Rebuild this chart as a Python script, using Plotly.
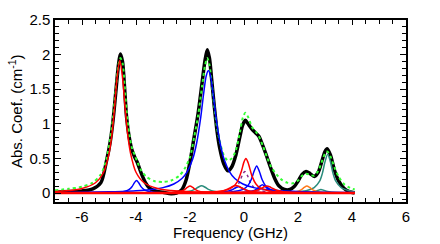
import plotly.graph_objects as go

# ---- measured spectrum (black) ----
meas_x = [-7.0, -6.5, -6.0, -5.6, -5.3, -5.1, -4.95, -4.85, -4.75, -4.65, -4.58, -4.5, -4.42, -4.35,
          -4.25, -4.15, -4.05, -3.95, -3.8, -3.65, -3.5, -3.3, -3.0, -2.7, -2.5, -2.3, -2.15, -2.0,
          -1.85, -1.7, -1.55, -1.45, -1.36, -1.28, -1.2, -1.1, -1.0, -0.9, -0.75, -0.6, -0.45, -0.3,
          -0.15, -0.05, 0.05, 0.15, 0.3, 0.45, 0.55, 0.7, 0.85, 1.0, 1.15, 1.3, 1.5, 1.7, 1.85, 2.0,
          2.15, 2.3, 2.45, 2.6, 2.75, 2.9, 3.0, 3.08, 3.2, 3.35, 3.5, 3.7, 3.9, 4.1]
meas_y = [0.01, 0.02, 0.03, 0.06, 0.15, 0.45, 0.75, 1.05, 1.45, 1.85, 2.01, 1.9, 1.5, 1.1,
          0.8, 0.62, 0.52, 0.44, 0.28, 0.15, 0.07, 0.03, 0.01, -0.01, 0.0, 0.05, 0.18, 0.45,
          0.8, 1.15, 1.6, 1.9, 2.07, 1.95, 1.65, 1.25, 0.9, 0.65, 0.42, 0.32, 0.38, 0.55,
          0.82, 0.98, 1.05, 1.0, 0.92, 0.86, 0.82, 0.68, 0.52, 0.35, 0.2, 0.1, 0.05, 0.05, 0.09, 0.17,
          0.27, 0.31, 0.28, 0.24, 0.3, 0.48, 0.6, 0.64, 0.55, 0.33, 0.18, 0.07, 0.02, 0.0]

# ---- total fit (green dotted) ----
fit_x = [-7.0, -6.5, -6.0, -5.6, -5.3, -5.1, -4.95, -4.85, -4.75, -4.65, -4.58, -4.5, -4.42, -4.35,
         -4.25, -4.15, -4.05, -3.95, -3.8, -3.6, -3.3, -3.0, -2.7, -2.4, -2.2, -2.0, -1.85, -1.7,
         -1.55, -1.45, -1.36, -1.28, -1.2, -1.1, -1.0, -0.9, -0.75, -0.6, -0.45, -0.3, -0.15, -0.05,
         0.05, 0.15, 0.3, 0.45, 0.55, 0.7, 0.85, 1.0, 1.2, 1.4, 1.6, 1.8, 2.0, 2.15, 2.3, 2.45, 2.6,
         2.75, 2.9, 3.0, 3.08, 3.2, 3.35, 3.5, 3.7, 3.9, 4.1]
fit_y = [0.04, 0.06, 0.09, 0.15, 0.27, 0.48, 0.8, 1.1, 1.5, 1.85, 1.95, 1.88, 1.55, 1.2,
         0.85, 0.65, 0.55, 0.45, 0.32, 0.23, 0.17, 0.16, 0.18, 0.25, 0.35, 0.52, 0.8, 1.12,
         1.55, 1.83, 1.95, 1.85, 1.6, 1.25, 0.95, 0.75, 0.55, 0.47, 0.5, 0.62, 0.88, 1.08,
         1.16, 1.1, 0.95, 0.88, 0.82, 0.68, 0.52, 0.38, 0.27, 0.19, 0.15, 0.14, 0.18, 0.25, 0.28, 0.26, 0.25,
         0.32, 0.47, 0.57, 0.6, 0.53, 0.37, 0.24, 0.13, 0.08, 0.05]

# ---- red components ----
red1_x = [-7.0, -6.5, -6.0, -5.5, -5.2, -5.0, -4.9, -4.8, -4.7, -4.6, -4.5, -4.4, -4.3, -4.2, -4.0,
          -3.7, -3.2, -2.7, -2.0, -1.0, 0.5, 4.1]
red1_y = [0.022, 0.035, 0.064, 0.148, 0.30, 0.57, 0.82, 1.21, 1.67, 1.92, 1.67, 1.21, 0.82, 0.57, 0.30,
          0.148, 0.064, 0.035, 0.019, 0.010, 0.005, 0.002]
red2_x = [-7.0, -3.5, -3.0, -2.6, -2.4, -2.2, -2.1, -2.0, -1.9, -1.8, -1.6, -1.4, -1.0, 0.0, 4.1]
red2_y = [0.0, 0.002, 0.004, 0.01, 0.02, 0.05, 0.08, 0.10, 0.08, 0.05, 0.02, 0.01, 0.004, 0.001, 0.0]
red3_x = [-7.0, -3.0, -2.0, -1.0, -0.6, -0.4, -0.25, -0.1, 0.0, 0.07, 0.15, 0.3, 0.45, 0.6, 0.9,
          1.3, 2.0, 3.0, 4.1]
red3_y = [0.0, 0.003, 0.006, 0.02, 0.049, 0.09, 0.16, 0.31, 0.45, 0.5, 0.44, 0.24, 0.126, 0.074, 0.033,
          0.015, 0.006, 0.003, 0.0015]
red4_x = [-7.0, -2.0, -0.5, 0.0, 0.25, 0.45, 0.65, 0.75, 0.85, 0.95, 1.05, 1.25, 1.45, 1.7, 2.5, 4.1]
red4_y = [0.0, 0.001, 0.005, 0.011, 0.02, 0.036, 0.069, 0.09, 0.1, 0.09, 0.069, 0.036, 0.02, 0.011, 0.003, 0.001]
red5_x = [-7.0, -3.0, -2.0, -1.3, -0.9, -0.7, -0.5, -0.4, -0.3, -0.2, -0.1, 0.1, 0.3, 0.7, 1.4, 2.4, 4.1]
red5_y = [0.0, 0.001, 0.003, 0.009, 0.022, 0.04, 0.076, 0.099, 0.11, 0.099, 0.076, 0.04, 0.022, 0.009,
          0.003, 0.001, 0.0]

# ---- blue components ----
blue1_x = [-7.0, -5.5, -5.0, -4.6, -4.4, -4.25, -4.15, -4.05, -3.98, -3.9, -3.8, -3.7, -3.55, -3.35,
           -3.0, -2.5, -1.5, 0.0, 4.1]
blue1_y = [0.001, 0.002, 0.005, 0.013, 0.025, 0.051, 0.09, 0.154, 0.18, 0.147, 0.085, 0.049, 0.024, 0.012,
           0.005, 0.002, 0.001, 0.0, 0.0]
blue2_x = [-7.0, -6.0, -5.0, -4.5, -4.0, -3.5, -3.0, -2.6, -2.3, -2.1, -1.9, -1.75, -1.6, -1.5, -1.4,
           -1.32, -1.24, -1.14, -1.04, -0.89, -0.74, -0.54, -0.34, -0.04, 0.36, 0.86, 1.36, 2.0, 3.0, 4.1]
blue2_y = [0.007, 0.010, 0.017, 0.022, 0.031, 0.047, 0.078, 0.13, 0.21, 0.31, 0.49, 0.73, 1.10, 1.42, 1.69,
           1.77, 1.69, 1.42, 1.10, 0.73, 0.49, 0.31, 0.21, 0.13, 0.078, 0.047, 0.031, 0.021, 0.012, 0.008]
blue3_x = [-7.0, -3.0, -1.5, -0.5, -0.2, 0.0, 0.15, 0.27, 0.37, 0.47, 0.57, 0.67, 0.79, 0.94, 1.14,
           1.44, 2.0, 3.0, 4.1]
blue3_y = [0.0, 0.001, 0.004, 0.016, 0.032, 0.06, 0.11, 0.195, 0.31, 0.39, 0.31, 0.195, 0.11, 0.06, 0.032,
           0.016, 0.007, 0.002, 0.001]
blue4_x = [-7.0, -2.0, -0.5, 0.0, 0.28, 0.48, 0.58, 0.68, 0.78, 0.88, 1.08, 1.36, 1.86, 3.0, 4.1]
blue4_y = [0.0, 0.001, 0.003, 0.01, 0.024, 0.06, 0.096, 0.12, 0.096, 0.06, 0.024, 0.01, 0.003, 0.001, 0.0]
blue5_x = [-7.0, -3.0, -1.5, -1.0, -0.7, -0.45, -0.33, -0.2, -0.07, 0.05, 0.3, 0.6, 1.1, 2.6, 4.1]
blue5_y = [0.0, 0.001, 0.003, 0.008, 0.018, 0.045, 0.071, 0.09, 0.071, 0.045, 0.018, 0.008, 0.003, 0.001, 0.0]

# ---- teal components ----
teal1_x = [-7.0, -4.0, -3.0, -2.4, -2.07, -1.82, -1.7, -1.57, -1.44, -1.32, -1.07, -0.74, -0.14, 0.86, 4.1]
teal1_y = [0.0, 0.001, 0.003, 0.009, 0.021, 0.052, 0.083, 0.105, 0.083, 0.052, 0.021, 0.009, 0.003, 0.001, 0.0]
teal2_x = [-7.0, -2.0, 0.0, 1.0, 1.8, 2.3, 2.6, 2.8, 2.9, 3.0, 3.1, 3.2, 3.3, 3.4, 3.6, 3.9, 4.1]
teal2_y = [0.0, 0.001, 0.002, 0.005, 0.013, 0.033, 0.077, 0.17, 0.28, 0.45, 0.56, 0.45, 0.28, 0.17, 0.077,
           0.033, 0.02]
teal3_x = [-7.0, 1.0, 2.0, 2.45, 2.65, 2.75, 2.85, 2.95, 3.05, 3.25, 3.7, 4.1]
teal3_y = [0.0, 0.001, 0.003, 0.01, 0.025, 0.04, 0.05, 0.04, 0.025, 0.01, 0.003, 0.001]

# ---- orange component ----
orange_x = [-7.0, 0.0, 1.0, 1.6, 1.93, 2.13, 2.23, 2.33, 2.43, 2.53, 2.73, 3.06, 3.66, 4.1]
orange_y = [0.0, 0.001, 0.002, 0.007, 0.02, 0.05, 0.08, 0.1, 0.08, 0.05, 0.02, 0.007, 0.002, 0.001]

# ---- purple dotted component ----
purple_x = [-7.0, -2.0, -1.0, -0.5, -0.3, -0.17, -0.07, 0.03, 0.13, 0.23, 0.36, 0.56, 1.06, 2.06, 4.1]
purple_y = [0.0, 0.003, 0.011, 0.039, 0.083, 0.155, 0.25, 0.31, 0.25, 0.155, 0.083, 0.039, 0.011, 0.003, 0.001]

# ---- baseline ----
base_x = [-7.0, 4.1]
base_y = [0.0, 0.0]

x_ticks = [-6, -4, -2, 0, 2, 4, 6]
y_ticks = [0, 0.5, 1, 1.5, 2, 2.5]
y_tick_text = ["0", "0.5", "1", "1.5", "2", "2.5"]
x_title = "Frequency (GHz)"
y_title = "Abs. Coef. (cm<sup>-1</sup>)"

RED = "#ff0000"
BLUE = "#0000ff"
TEAL = "#2a8c7c"
ORANGE = "#ff7a1a"
PURPLE = "#8b2b8b"
GREEN = "#33ff33"

fig = go.Figure()

def add(x, y, color, width, dash="solid"):
    fig.add_trace(go.Scatter(x=x, y=y, mode="lines",
                             line=dict(color=color, width=width, dash=dash, shape="spline", smoothing=0.8),
                             hoverinfo="skip", showlegend=False))

add(meas_x, meas_y, "black", 3.5)
add(fit_x, fit_y, GREEN, 2, "dot")
add(teal1_x, teal1_y, TEAL, 1.5)
add(teal2_x, teal2_y, TEAL, 1.5)
add(teal3_x, teal3_y, TEAL, 1.5)
add(orange_x, orange_y, ORANGE, 1.5)
add(purple_x, purple_y, PURPLE, 1.5, "dot")
add(blue1_x, blue1_y, BLUE, 1.5)
add(blue2_x, blue2_y, BLUE, 1.5)
add(blue3_x, blue3_y, BLUE, 1.5)
add(blue4_x, blue4_y, BLUE, 1.5)
add(blue5_x, blue5_y, BLUE, 1.5)
add(red1_x, red1_y, RED, 1.5)
add(red2_x, red2_y, RED, 1.5)
add(red3_x, red3_y, RED, 1.5)
add(red4_x, red4_y, RED, 1.5)
add(red5_x, red5_y, RED, 1.5)
fig.add_trace(go.Scatter(x=base_x, y=base_y, mode="lines", line=dict(color=RED, width=2.5),
                         hoverinfo="skip", showlegend=False))

axis_font = dict(family="Liberation Sans, Arial, sans-serif", size=15, color="black")

fig.update_layout(
    width=440, height=244,
    margin=dict(l=55, r=34, t=20, b=42),
    paper_bgcolor="white", plot_bgcolor="white",
    font=axis_font,
    showlegend=False,
    annotations=[
        dict(text=x_title, xref="paper", yref="paper", x=0.5, y=-0.165,
             xanchor="center", yanchor="middle", showarrow=False, font=dict(size=15)),
        dict(text=y_title, xref="paper", yref="paper", x=-0.114, y=0.5,
             xanchor="center", yanchor="middle", textangle=-90, showarrow=False, font=dict(size=15)),
    ],
)
fig.update_xaxes(
    range=[-7, 6], tickmode="array", tickvals=x_ticks, ticktext=[str(v) for v in x_ticks],
    ticks="inside", ticklen=5, tickwidth=1, tickcolor="black",
    minor=dict(dtick=0.5, ticks="inside", ticklen=4, tickcolor="black", tickwidth=1),
    showline=True, linecolor="black", linewidth=1.5, mirror="ticks",
    showgrid=False, zeroline=False,
    tickfont=dict(size=15),
)
fig.update_yaxes(
    range=[-0.13, 2.5], tickmode="array", tickvals=y_ticks, ticktext=y_tick_text,
    ticks="inside", ticklen=6, tickwidth=1, tickcolor="black",
    minor=dict(dtick=0.1, ticks="inside", ticklen=4, tickcolor="black", tickwidth=1),
    showline=True, linecolor="black", linewidth=1.5, mirror="ticks",
    showgrid=False, zeroline=False,
    tickfont=dict(size=15),
)

fig.write_html("out.html", config={"displayModeBar": False},
               post_script="document.body.style.margin='0px';document.body.style.padding='0px';")
